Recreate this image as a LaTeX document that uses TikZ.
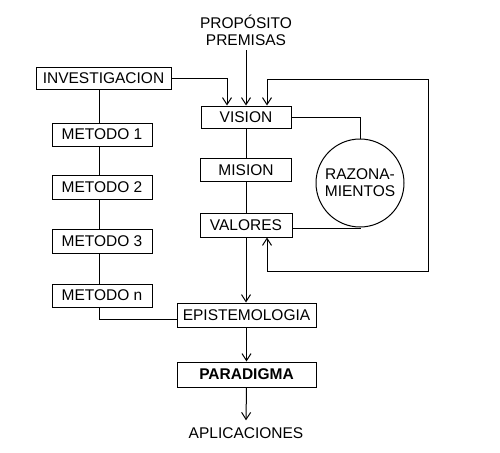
\documentclass[tikz,border=0pt]{standalone}
\usepackage{fontspec}
\setmainfont{Liberation Sans}
\usetikzlibrary{arrows.meta}
\begin{document}
\begin{tikzpicture}[x=1pt,y=-1pt,
  box/.style={draw, line width=1pt, inner sep=0pt, font=\fontsize{15.5}{18}\selectfont},
  lbl/.style={inner sep=0pt, font=\fontsize{15.5}{17}\selectfont},
  conn/.style={line width=1pt},
  arr/.style={line width=1pt, -{Straight Barb[length=7pt,width=9pt]}},
  arrboth/.style={line width=1pt, {Straight Barb[length=7pt,width=9pt]}-{Straight Barb[length=7pt,width=9pt]}}]
\useasboundingbox (0,0) rectangle (500,452);
% left column
\node[box, minimum width=135pt, minimum height=22pt] (inv) at (103.5,78) {INVESTIGACION};
\node[box, minimum width=100pt, minimum height=23pt] (m1) at (102,134.5) {METODO 1};
\node[box, minimum width=100pt, minimum height=24pt] (m2) at (102,187) {METODO 2};
\node[box, minimum width=100pt, minimum height=24pt] (m3) at (102,241) {METODO 3};
\node[box, minimum width=100pt, minimum height=23pt] (mn) at (102,295.5) {METODO n};
\coordinate (colx) at (99,0);
% center column
\node[lbl, align=center] (prop) at (246,30) {PROPÓSITO\\PREMISAS};
\node[box, minimum width=90pt, minimum height=22pt] (vision) at (246,117) {VISION};
\node[box, minimum width=91pt, minimum height=23pt] (mision) at (246,170) {MISION};
\node[box, minimum width=92pt, minimum height=24pt] (valores) at (246,225) {VALORES};
\node[box, minimum width=139pt, minimum height=24pt] (epis) at (246.5,315) {EPISTEMOLOGIA};
\node[box, minimum width=139pt, minimum height=25pt] (para) at (246.5,374.5) {\textbf{PARADIGMA}};
\node[lbl] (apl) at (246,433) {APLICACIONES};
% circle
\node[box, circle, minimum size=88pt, align=center, font=\fontsize{15.5}{17}\selectfont] (razon) at (360,183) {RAZONA-\\MIENTOS};
\coordinate (fb1) at (428,271);
\coordinate (fb2) at (428,79);
% connectors left
\draw[conn] (inv.south -| colx) -- (m1.north -| colx);
\draw[conn] (m1.south -| colx) -- (m2.north -| colx);
\draw[conn] (m2.south -| colx) -- (m3.north -| colx);
\draw[conn] (m3.south -| colx) -- (mn.north -| colx);
\draw[conn] (mn.south -| colx) |- ([yshift=-4pt]epis.west);
% connectors center
\draw[arr] (inv.east) -| ([xshift=-19pt]vision.north);
\draw[arr] ([yshift=-5pt]prop.south) -- (vision.north);
\draw[arrboth] ([xshift=21pt]valores.south) |- (fb1) -- (fb2) -| ([xshift=21pt]vision.north);
\draw[conn] (vision.east) -| (razon.north);
\draw[conn] ([yshift=-3pt]valores.east) -| (razon.south);
\draw[conn] (vision.south) -- (mision.north);
\draw[conn] (mision.south) -- (valores.north);
\draw[arr] (valores.south) -- (valores.south |- epis.north);
\draw[arr] (epis.south) -- (para.north);
\draw[arr] (para.south) -- ([yshift=7pt]apl.north);
\end{tikzpicture}
\end{document}
